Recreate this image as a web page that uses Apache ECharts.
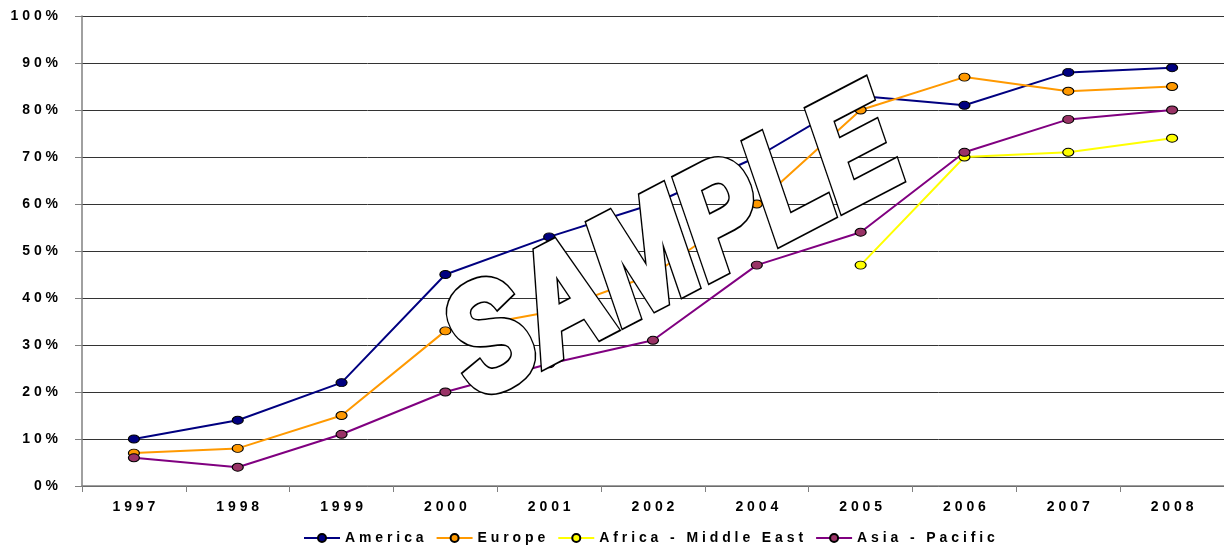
<!DOCTYPE html>
<html>
<head>
<meta charset="utf-8">
<script src="https://cdn.jsdelivr.net/npm/echarts@6/dist/echarts.min.js"></script>
<style>
html,body{margin:0;padding:0;background:#fff;}
#chart{width:1224px;height:546px;}
</style>
</head>
<body>
<div id="chart"></div>
<script>
const categories = ['1997','1998','1999','2000','2001','2002','2004','2005','2006','2007','2008'];
const america = [10,14,22,45,53,60,70,83,81,88,89];
const europe = [7,8,15,33,37,45,60,80,87,84,85];
const africaMiddleEast = [null,null,null,null,null,null,null,47,70,71,74];
const asiaPacific = [6,4,11,20,26,31,47,54,71,78,80];
const yTickLabels = ['0 %','1 0 %','2 0 %','3 0 %','4 0 %','5 0 %','6 0 %','7 0 %','8 0 %','9 0 %','1 0 0 %'];
const seriesNames = ['America','Europe','Africa - Middle East','Asia - Pacific'];
const watermarkText = 'SAMPLE';

const spaced = s => s.split('').join(' ');
const chart = echarts.init(document.getElementById('chart'));
const labelFont = {fontFamily:'Liberation Sans, Arial, sans-serif', fontWeight:'bold', fontSize:14, color:'#000'};

function mk(name, data, lineColor, fill){
  return {
    name, type:'line', data,
    symbol:'circle', symbolSize:[11,8],
    lineStyle:{color:lineColor, width:2},
    itemStyle:{color:fill, borderColor:'#000', borderWidth:1},
    emphasis:{disabled:true},
    connectNulls:false, animation:false, z:3
  };
}

const wm = {x:675, y:250, rotation:0.48, scaleX:0.78};
const wmFont = 'italic bold 150px "Liberation Sans", Arial, sans-serif';

chart.setOption({
  animation:false,
  grid:{left:82, right:0, top:16, bottom:60, containLabel:false},
  legend:{
    top:526, left:298,
    itemWidth:36, itemHeight:10, itemGap:12,
    data:seriesNames,
    formatter: n => spaced(n),
    textStyle:{fontFamily:'Liberation Sans, Arial, sans-serif', fontWeight:'bold', fontSize:14, color:'#000'}
  },
  xAxis:{
    type:'category', data:categories, boundaryGap:true,
    axisLine:{lineStyle:{color:'#808080', width:1.5}},
    axisTick:{show:true, length:6, lineStyle:{color:'#808080'}},
    axisLabel:Object.assign({margin:14, formatter: v => spaced(v)}, labelFont),
    splitLine:{show:false}
  },
  yAxis:{
    type:'value', min:0, max:100, interval:10,
    axisLine:{show:true, lineStyle:{color:'#808080', width:1.5}},
    axisTick:{show:true, length:7, lineStyle:{color:'#808080'}},
    axisLabel:Object.assign({margin:24, formatter: v => yTickLabels[Math.round(v/10)]}, labelFont),
    splitLine:{show:true, lineStyle:{color:'#333', width:1}}
  },
  series:[
    mk(seriesNames[0], america, '#000080', '#000080'),
    mk(seriesNames[1], europe, '#FF9900', '#FF9900'),
    mk(seriesNames[2], africaMiddleEast, '#FFFF00', '#FFFF00'),
    mk(seriesNames[3], asiaPacific, '#800080', '#993366')
  ],
  graphic:[
    Object.assign({type:'text', z:100, style:{
      text:watermarkText, fill:'#000', stroke:'#000', lineWidth:11, lineJoin:'round',
      font:wmFont, textAlign:'center', textVerticalAlign:'middle'}}, wm),
    Object.assign({type:'text', z:101, style:{
      text:watermarkText, fill:'#fff', stroke:'#fff', lineWidth:7.5, lineJoin:'round',
      font:wmFont, textAlign:'center', textVerticalAlign:'middle'}}, wm)
  ]
});
</script>
</body>
</html>
